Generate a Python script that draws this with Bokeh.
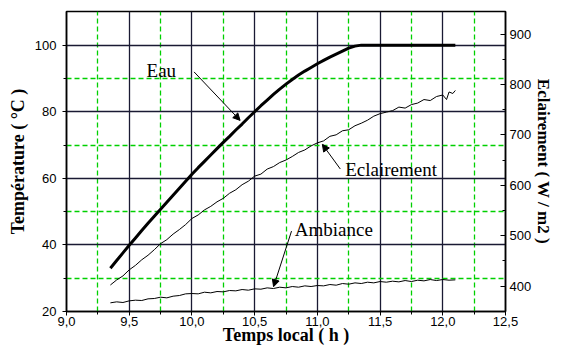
from bokeh.plotting import figure
from bokeh.models import (LinearAxis, Range1d, FixedTicker, CustomJSTickFormatter,
                          Arrow, NormalHead, Label)
from bokeh.embed import file_html
from bokeh.resources import INLINE

# ---- data ----
eau_t = [9.35, 9.40, 9.45, 9.50, 9.55, 9.60, 9.65, 9.70, 9.75, 9.80, 9.85, 9.90, 9.95,
         10.00, 10.05, 10.10, 10.15, 10.20, 10.25, 10.30, 10.35, 10.40, 10.45, 10.50,
         10.55, 10.60, 10.65, 10.70, 10.75, 10.80, 10.85, 10.90, 10.95, 11.00, 11.05,
         11.10, 11.15, 11.20, 11.25, 11.30, 11.35, 12.10]
eau_temp = [33.0, 35.3, 37.6, 39.9, 42.1, 44.3, 46.5, 48.6, 50.7, 52.8, 54.9, 57.0, 59.1,
            61.2, 63.2, 65.1, 67.0, 68.9, 70.8, 72.6, 74.5, 76.3, 78.2, 80.0,
            81.8, 83.5, 85.2, 86.8, 88.3, 89.7, 91.0, 92.2, 93.3, 94.4, 95.4,
            96.4, 97.3, 98.2, 99.1, 99.7, 100.0, 100.0]

ecl_t = [9.35, 9.40, 9.45, 9.50, 9.55, 9.60, 9.65, 9.70, 9.75, 9.80, 9.85, 9.90, 9.95,
         10.00, 10.05, 10.10, 10.15, 10.20, 10.25, 10.30, 10.35, 10.40, 10.45, 10.50,
         10.55, 10.60, 10.65, 10.70, 10.75, 10.80, 10.85, 10.90, 10.95, 11.00, 11.05,
         11.10, 11.15, 11.20, 11.25, 11.30, 11.35, 11.40, 11.45, 11.50, 11.55, 11.60,
         11.65, 11.70, 11.75, 11.80, 11.85, 11.90, 11.95, 12.00, 12.03, 12.05, 12.08, 12.10]
ecl_wm2 = [402, 412, 420, 432, 441, 452, 461, 472, 484, 492, 503, 512, 522,
           534, 541, 551, 558, 567, 574, 584, 591, 601, 608, 618,
           622, 632, 637, 645, 650, 657, 665, 670, 678, 684, 688,
           697, 700, 708, 710, 718, 723, 729, 737, 742, 745, 748,
           755, 753, 760, 763, 770, 768, 776, 779, 770, 785, 782, 788]

amb_t = [9.35, 9.40, 9.45, 9.50, 9.55, 9.60, 9.65, 9.70, 9.75, 9.80, 9.85, 9.90, 9.95,
         10.00, 10.05, 10.10, 10.15, 10.20, 10.25, 10.30, 10.35, 10.40, 10.45, 10.50,
         10.55, 10.60, 10.65, 10.70, 10.75, 10.80, 10.85, 10.90, 10.95, 11.00, 11.05,
         11.10, 11.15, 11.20, 11.25, 11.30, 11.35, 11.40, 11.45, 11.50, 11.55, 11.60,
         11.65, 11.70, 11.75, 11.80, 11.85, 11.90, 11.95, 12.00, 12.05, 12.10]
amb_temp = [22.6, 22.9, 22.7, 23.2, 23.4, 23.3, 23.8, 23.9, 24.3, 24.1, 24.6, 24.8, 25.3,
            25.4, 25.3, 25.8, 25.6, 26.0, 25.9, 26.3, 26.2, 26.6, 26.4, 26.8,
            26.7, 27.1, 26.9, 27.3, 27.1, 27.5, 27.3, 27.7, 27.5, 27.8, 27.7,
            28.1, 27.9, 28.4, 28.2, 28.6, 28.4, 28.8, 28.6, 29.0, 28.8, 29.1,
            28.9, 29.3, 29.0, 29.4, 29.2, 29.6, 29.3, 29.6, 29.4, 29.5]

x_ticks = [9.0, 9.5, 10.0, 10.5, 11.0, 11.5, 12.0, 12.5]
x_minor = [9.25, 9.75, 10.25, 10.75, 11.25, 11.75, 12.25]
yl_ticks = [20, 40, 60, 80, 100]
yl_minor = [30, 50, 70, 90]
yr_ticks = [400, 500, 600, 700, 800, 900]
yr_minor = [450, 550, 650, 750, 850]

SERIF = "Liberation Serif"
SANS = "Liberation Sans"
GRID_DARK = "#1a1a33"
GRID_GREEN = "#00d000"

p = figure(width=556, height=347, output_backend="svg", toolbar_location=None,
           x_range=Range1d(9.0, 12.5), y_range=Range1d(20, 110.1),
           min_border_left=66, min_border_right=40, min_border_top=11, min_border_bottom=30)
p.extra_y_ranges = {"right": Range1d(349.4, 944.7)}

p.outline_line_color = "black"
p.outline_line_width = 1.5
p.background_fill_color = "white"
p.border_fill_color = "white"

# axes
xt = FixedTicker(ticks=x_ticks, minor_ticks=x_minor)
ylt = FixedTicker(ticks=yl_ticks, minor_ticks=yl_minor)
yrt = FixedTicker(ticks=yr_ticks, minor_ticks=yr_minor)

p.xaxis.ticker = xt
p.xaxis.formatter = CustomJSTickFormatter(code="return tick.toFixed(1).replace('.', ',');")
p.yaxis.ticker = ylt
p.xgrid.ticker = xt
p.ygrid.ticker = ylt

for ax in (p.xaxis[0], p.yaxis[0]):
    ax.axis_line_color = "black"
    ax.axis_line_width = 1.5
    ax.major_tick_out = 4
    ax.major_tick_in = 0
    ax.minor_tick_out = 3
    ax.minor_tick_in = 0
    ax.major_tick_line_color = "black"
    ax.minor_tick_line_color = "black"
    ax.major_label_text_font = SANS
    ax.major_label_text_font_size = "13px"
    ax.major_label_text_color = "black"
    ax.axis_label_text_font = SERIF
    ax.axis_label_text_font_style = "bold"
    ax.axis_label_text_font_size = "18px"
    ax.axis_label_text_color = "black"

p.xaxis.axis_label = "Temps local ( h )"
p.xaxis.major_label_standoff = 1
p.xaxis.axis_label_standoff = -4
p.yaxis.axis_label = "Température ( °C )"
p.yaxis.major_label_standoff = 6
p.yaxis.axis_label_standoff = 4

ry = LinearAxis(y_range_name="right", ticker=yrt, axis_label="Eclairement ( W / m2 )")
ry.axis_line_color = "black"
ry.axis_line_width = 1.5
ry.major_tick_out = 0
ry.major_tick_in = 5
ry.minor_tick_out = 0
ry.minor_tick_in = 3
ry.major_tick_line_color = "black"
ry.minor_tick_line_color = "black"
ry.major_label_standoff = 4
ry.major_label_text_font = SANS
ry.major_label_text_font_size = "13px"
ry.major_label_text_color = "black"
ry.axis_label_text_font = SERIF
ry.axis_label_text_font_style = "bold"
ry.axis_label_text_font_size = "17px"
ry.axis_label_text_color = "black"
ry.axis_label_standoff = 0
p.add_layout(ry, "right")

# grid
for g in (p.xgrid[0], p.ygrid[0]):
    g.grid_line_color = GRID_DARK
    g.grid_line_width = 1.3
    g.minor_grid_line_color = GRID_GREEN
    g.minor_grid_line_width = 1.3
    g.minor_grid_line_dash = "5 3"

# series
p.line(eau_t, eau_temp, line_color="black", line_width=3)
p.line(ecl_t, ecl_wm2, line_color="black", line_width=1, y_range_name="right")
p.line(amb_t, amb_temp, line_color="black", line_width=1)

# annotations
def lab(x, y, text):
    p.add_layout(Label(x=x, y=y, text=text, text_font=SERIF, text_font_size="19px",
                       text_color="black", text_align="left", text_baseline="alphabetic"))

lab(9.638, 92.46, "Eau")
lab(11.222, 62.5, "Eclairement")
lab(10.82, 44.65, "Ambiance")

def arrow(xs, ys, xe, ye):
    p.add_layout(Arrow(end=NormalHead(size=7, fill_color="black", line_color="black"),
                       x_start=xs, y_start=ys, x_end=xe, y_end=ye,
                       line_color="black", line_width=1))

arrow(10.017, 91.96, 10.384, 77.4)
arrow(11.183, 62.8, 11.040, 70.2)
arrow(10.794, 44.15, 10.651, 27.46)

open("out.html", "w").write(file_html(p, INLINE))
